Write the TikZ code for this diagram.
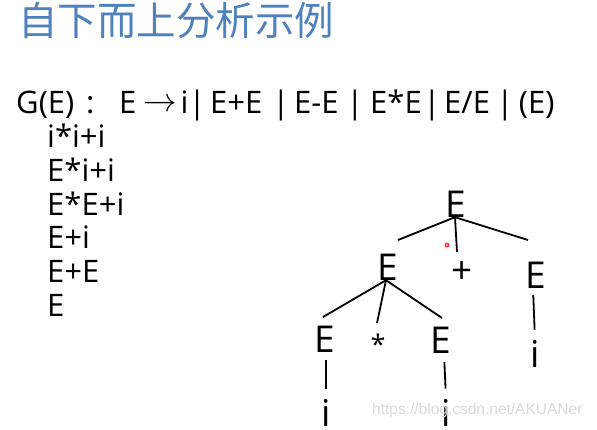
\documentclass[tikz,border=0pt]{standalone}
\usepackage{fontspec}
\usepackage{graphicx}
\setmainfont{Open Sans}
\newfontfamily\cjk{Noto Sans CJK SC}
\newfontfamily\wmfont{Liberation Sans}
\definecolor{titleblue}{RGB}{79,129,189}
\begin{document}
\begin{tikzpicture}[x=1pt,y=-1pt,
  txt/.style={inner sep=0pt,anchor=base west,font=\fontsize{31}{36}\selectfont},
  bar/.style={inner sep=0pt,anchor=base,font=\fontsize{31}{36}\selectfont},
  sym/.style={inner sep=0pt,anchor=base,font=\fontsize{37}{40}\selectfont},
  edge/.style={line width=1.8pt}]
\useasboundingbox (0,0) rectangle (597,429);
\node[inner sep=0pt,anchor=base west,text=titleblue,font=\cjk\fontsize{39.5}{42}\selectfont] (title) at (18,35) {自下而上分析示例};
% grammar line
\node[txt] (g1) at (16,113) {G(E)};
\node[txt] (g2) at (86,113) {:};
\node[txt] (g3) at (119,113) {E};
\node[inner sep=0pt,anchor=center,font=\fontsize{24.88}{30}\selectfont] (g4) at (160,105) {\scalebox{1.35}{$\rightarrow$}};
\node[txt] (g5) at (180.5,113) {i|};
\node[txt] (g6) at (210,113) {E+E};
\node[bar] (b1) at (281,113) {|};
\node[txt] (g7) at (294,113) {E-E};
\node[bar] (b2) at (355,113) {|};
\node[txt] (g8) at (370,113) {E*E};
\node[bar] (b3) at (432,113) {|};
\node[txt] (g9) at (444,113) {E/E};
\node[bar] (b4) at (505,113) {|};
\node[txt] (g10) at (518.7,113) {(E)};
% derivation
\node[txt] (l1) at (47,147) {i*i+i};
\node[txt] (l2) at (47,181) {E*i+i};
\node[txt] (l3) at (47,215) {E*E+i};
\node[txt] (l4) at (47,248) {E+i};
\node[txt] (l5) at (47,282) {E+E};
\node[txt] (l6) at (47,316) {E};
% tree
\node[sym] (root) at (456,217) {E};
\node[sym] (el) at (388,280) {E};
\node[sym] (plus) at (462,283) {+};
\node[sym] (er) at (536,288) {E};
\node[sym] (ir) at (535,367) {i};
\node[sym] (ell) at (325,352) {E};
\node[inner sep=0pt,anchor=center,font=\fontsize{27}{30}\selectfont] (star) at (378,344) {*};
\node[sym] (elr) at (441,353) {E};
\node[sym] (il) at (326,426) {i};
\node[sym] (im) at (446,426) {i};
\coordinate (c1) at (398,240);
\coordinate (c2) at (457,252);
\coordinate (c3) at (528,240);
\coordinate (c4) at (323,317);
\coordinate (c5) at (377,323);
\coordinate (c6) at (442,318);
\draw[edge] ([xshift=-1pt]root.south) -- (c1);
\draw[edge] ([xshift=-1pt]root.south) -- (c2);
\draw[edge] ([xshift=-1pt]root.south) -- (c3);
\draw[edge] ([xshift=-2pt]el.south) -- (c4);
\draw[edge] ([xshift=-2pt]el.south) -- (c5);
\draw[edge] ([xshift=-2pt]el.south) -- (c6);
\draw[edge,shorten <=7pt,shorten >=10pt] ([xshift=-3pt]er.south) -- (ir.north);
\draw[edge,shorten <=8pt,shorten >=10pt] ([xshift=1pt]ell.south) -- (il.north);
\draw[edge,shorten <=9pt,shorten >=10pt] ([xshift=3pt]elr.south) -- (im.north);
\fill[red!80] (447,245) circle (2.5pt);
\fill[red!30] (447,245) circle (1.2pt);
\node[inner sep=0pt,anchor=base west,text=black!15,font=\wmfont\fontsize{15.5}{18}\selectfont] (wm) at (372,414) {https://blog.csdn.net/AKUANer};
\end{tikzpicture}
\end{document}
